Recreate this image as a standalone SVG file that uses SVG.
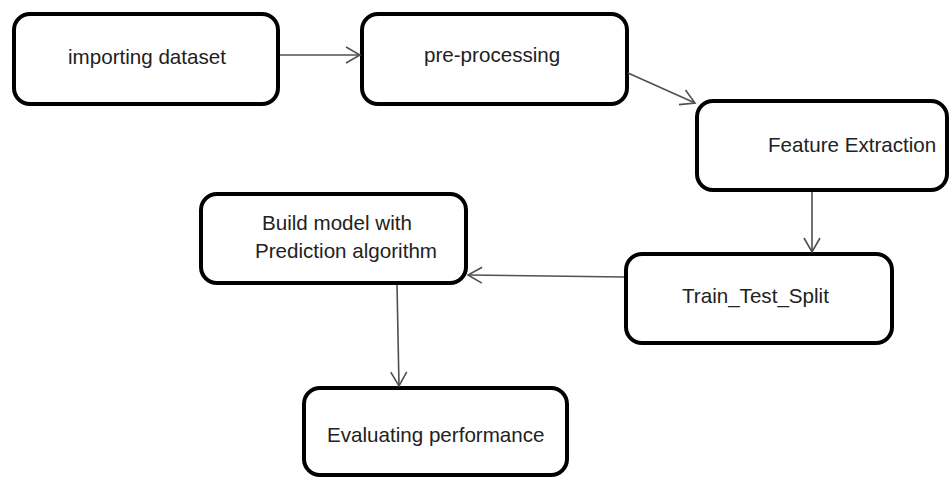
<svg xmlns="http://www.w3.org/2000/svg" width="951" height="479" viewBox="0 0 951 479">
<style>
.box{fill:#fff;stroke:#000;stroke-width:4}
.lbl{font-family:"Liberation Sans",Arial,sans-serif;font-size:20.6px;fill:#222}
.conn{stroke:#505050;stroke-width:1.6;fill:none;marker-end:url(#arr)}
</style>
<defs>
<marker id="arr" markerUnits="userSpaceOnUse" markerWidth="18" markerHeight="20" refX="15" refY="9" orient="auto">
<path d="M1,1 L15,9 L1,17" fill="none" stroke="#505050" stroke-width="1.6"/>
</marker>
</defs>
<rect width="951" height="479" fill="#fff"/>
<g id="n1"><rect class="box" x="14" y="14" width="264" height="90" rx="16"/><text class="lbl" x="68" y="64">importing dataset</text></g>
<g id="n2"><rect class="box" x="362" y="14" width="265" height="90" rx="16"/><text class="lbl" x="424" y="62">pre-processing</text></g>
<g id="n3"><rect class="box" x="697" y="101" width="250" height="89" rx="16"/><text class="lbl" x="768" y="152">Feature Extraction</text></g>
<g id="n4"><rect class="box" x="201" y="194" width="265" height="89" rx="16"/><text class="lbl" x="262" y="230">Build model with</text><text class="lbl" x="255" y="258">Prediction algorithm</text></g>
<g id="n5"><rect class="box" x="626" y="254" width="266" height="89" rx="16"/><text class="lbl" x="682" y="303">Train_Test_Split</text></g>
<g id="n6"><rect class="box" x="304" y="388" width="263" height="87" rx="16"/><text class="lbl" x="327" y="442">Evaluating performance</text></g>
<g id="connectors">
<line class="conn" x1="280" y1="55" x2="360" y2="55"/>
<line class="conn" x1="628" y1="73" x2="695" y2="103"/>
<line class="conn" x1="812" y1="192" x2="812" y2="252"/>
<line class="conn" x1="624" y1="277" x2="468" y2="275"/>
<line class="conn" x1="397" y1="285" x2="399" y2="386"/>
</g>
</svg>
